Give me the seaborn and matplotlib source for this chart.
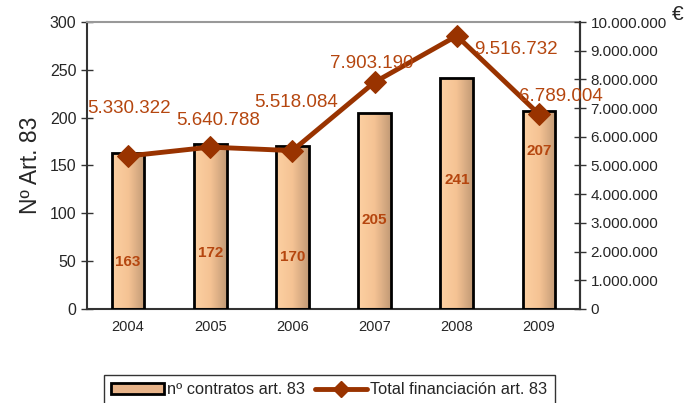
import numpy as np
import pandas as pd
import matplotlib
matplotlib.use("Agg")
import matplotlib.pyplot as plt
import seaborn as sns
from matplotlib.patches import Patch
from matplotlib.lines import Line2D
from matplotlib.colors import LinearSegmentedColormap
from matplotlib.ticker import FuncFormatter, MultipleLocator

years = ["2004", "2005", "2006", "2007", "2008", "2009"]
contratos = [163, 172, 170, 205, 241, 207]
financiacion = [5330322, 5640788, 5518084, 7903190, 9516732, 6789004]
contratos_label_y = [49, 58, 54, 93, 135, 165]
fin_label_offsets = [(1, 48), (8, 27), (4, 48), (-3, 19), (59, -14), (22, 18)]

sns.set_style("white")
plt.rcParams['font.family'] = ['Liberation Sans', 'DejaVu Sans']

LINE = "#993300"
LBL = "#B5460F"

fig = plt.figure(figsize=(6.87, 4.03), dpi=100)
ax = fig.add_axes([0.1266, 0.2333, 0.8443 - 0.1266, 0.9454 - 0.2333])

df = pd.DataFrame({"year": years, "contratos": contratos})
sns.barplot(data=df, x="year", y="contratos", ax=ax, width=0.4,
            facecolor="none", edgecolor="black", linewidth=2, zorder=3)

cmap = LinearSegmentedColormap.from_list("g", ["#FDD0A2", "#F5C394", "#C29A76"])
grad = np.linspace(0, 1, 64).reshape(1, -1)
for p in ax.patches:
    x0, y0 = p.get_x(), p.get_y()
    w, h = p.get_width(), p.get_height()
    im = ax.imshow(grad, extent=[x0, x0 + w, y0, y0 + h], aspect="auto",
                   cmap=cmap, zorder=2, origin="lower")
    im.set_clip_path(p)

ax.set_xlim(-0.5, 5.5)
ax.set_ylim(0, 300)
ax.yaxis.set_major_locator(MultipleLocator(50))
ax.set_xlabel("")
ax.set_ylabel("Nº Art. 83", fontsize=16.5, labelpad=6)
ax.tick_params(axis="y", labelsize=11.5, direction="inout", length=8, width=1, color="#333333")
ax.set_xticks(np.arange(6))
ax.set_xticklabels(years)
ax.tick_params(axis="x", labelsize=10.5, length=0, pad=8)
ax.set_xticks(np.arange(-0.5, 6.0, 1.0), minor=True)
ax.tick_params(axis="x", which="minor", direction="inout", length=8, width=1, color="#333333")

for i, (v, ly) in enumerate(zip(contratos, contratos_label_y)):
    ax.text(i, ly, str(v), ha="center", va="center", fontsize=11,
            fontweight="bold", color=LBL, zorder=6)

for s in ["left", "bottom", "right"]:
    ax.spines[s].set_color("#333333")
    ax.spines[s].set_linewidth(1.5)
ax.spines["top"].set_color("#999999")
ax.spines["top"].set_linewidth(1.5)

ax2 = ax.twinx()
sns.lineplot(x=np.arange(6), y=financiacion, ax=ax2, color=LINE, linewidth=3.5,
             marker="D", markersize=11, markeredgecolor=LINE, zorder=5)
ax2.set_ylim(0, 10000000)
ax2.yaxis.set_major_locator(MultipleLocator(1000000))
ax2.yaxis.set_major_formatter(FuncFormatter(lambda v, p: f"{int(v):,}".replace(",", ".")))
ax2.tick_params(axis="y", labelsize=11, direction="inout", length=8, width=1, color="#333333")
for s in ax2.spines.values():
    s.set_visible(False)
ax2.spines["right"].set_visible(True)
ax2.spines["right"].set_color("#333333")
ax2.spines["right"].set_linewidth(1.5)

for i, (v, off) in enumerate(zip(financiacion, fin_label_offsets)):
    ax2.annotate(f"{v:,}".replace(",", "."), (i, v), xytext=off, textcoords="offset pixels",
                 ha="center", va="center", fontsize=13.5, color=LBL, zorder=7)

fig.text(0.987, 0.963, "€", fontsize=15, ha="center", va="center")

handles = [Patch(facecolor="#E8B48A", edgecolor="black", linewidth=2),
           Line2D([], [], color=LINE, linewidth=3.5, marker="D", markersize=8)]
leg = fig.legend(handles, ["nº contratos art. 83", "Total financiación art. 83"],
                 loc="upper left", bbox_to_anchor=(0.151, 0.0695), ncol=2, fontsize=11.8,
                 frameon=True, fancybox=False, edgecolor="black", borderpad=0.45,
                 borderaxespad=0, handlelength=3.2, columnspacing=0.6, handletextpad=0.2)
leg.get_frame().set_linewidth(1)

fig.savefig("out.png", dpi=100)
